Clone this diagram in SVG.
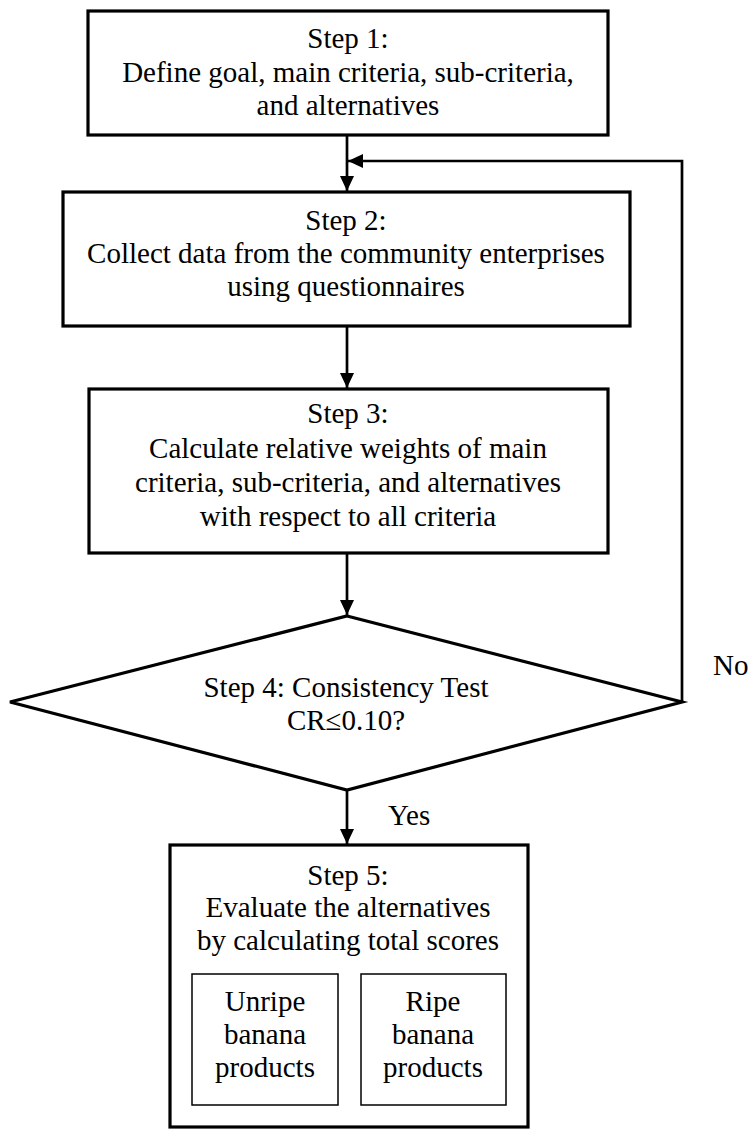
<svg xmlns="http://www.w3.org/2000/svg" width="749" height="1130" viewBox="0 0 749 1130">
<style>
text{font-family:"Liberation Serif","Times New Roman",serif;font-size:29px;fill:#000;text-anchor:middle}
.box{fill:#fff;stroke:#000;stroke-width:3.2}
.inner{fill:#fff;stroke:#000;stroke-width:1.5}
.conn{fill:none;stroke:#000;stroke-width:2.7}
</style>
<defs>
<marker id="ah" viewBox="0 0 15 14" refX="15" refY="7" markerWidth="15" markerHeight="14" orient="auto" markerUnits="userSpaceOnUse">
<path d="M0,0 L15,7 L0,14 z" fill="#000"/>
</marker>
</defs>
<rect width="749" height="1130" fill="#fff"/>
<g id="connectors">
<line class="conn" x1="347" y1="135" x2="347" y2="191" marker-end="url(#ah)"/>
<line class="conn" x1="347" y1="326" x2="347" y2="388" marker-end="url(#ah)"/>
<line class="conn" x1="347" y1="553" x2="347" y2="615" marker-end="url(#ah)"/>
<line class="conn" x1="347" y1="790" x2="347" y2="844" marker-end="url(#ah)"/>
<polyline class="conn" points="682,702 682,161 348,161" marker-end="url(#ah)"/>
<text x="713" y="675" style="text-anchor:start">No</text>
<text x="388" y="825" style="text-anchor:start">Yes</text>
</g>
<g id="step1">
<rect class="box" x="88" y="11" width="520" height="124"/>
<text x="348" y="48">Step 1:</text>
<text x="348" y="82">Define goal, main criteria, sub-criteria,</text>
<text x="348" y="115">and alternatives</text>
</g>
<g id="step2">
<rect class="box" x="63" y="192" width="567" height="134"/>
<text x="346" y="230">Step 2:</text>
<text x="346" y="263">Collect data from the community enterprises</text>
<text x="346" y="296">using questionnaires</text>
</g>
<g id="step3">
<rect class="box" x="89" y="389" width="519" height="164"/>
<text x="348" y="423">Step 3:</text>
<text x="348" y="458">Calculate relative weights of main</text>
<text x="348" y="492">criteria, sub-criteria, and alternatives</text>
<text x="348" y="526">with respect to all criteria</text>
</g>
<g id="step4">
<polygon class="box" points="347,616 682,702 347,790 10,702"/>
<text x="346" y="697">Step 4: Consistency Test</text>
<text x="346" y="730">CR≤0.10?</text>
</g>
<g id="step5">
<rect class="box" x="170" y="845" width="358" height="282"/>
<text x="348" y="885">Step 5:</text>
<text x="348" y="917">Evaluate the alternatives</text>
<text x="348" y="950">by calculating total scores</text>
</g>
<g id="unripe">
<rect class="inner" x="192" y="974" width="146" height="131"/>
<text x="265" y="1011">Unripe</text>
<text x="265" y="1044">banana</text>
<text x="265" y="1077">products</text>
</g>
<g id="ripe">
<rect class="inner" x="361" y="974" width="145" height="131"/>
<text x="433" y="1011">Ripe</text>
<text x="433" y="1044">banana</text>
<text x="433" y="1077">products</text>
</g>
</svg>
